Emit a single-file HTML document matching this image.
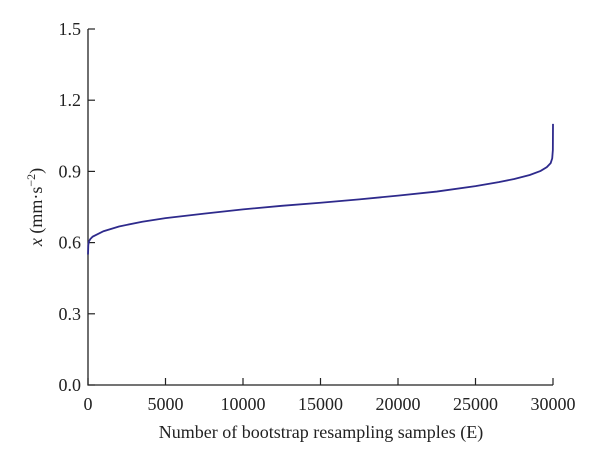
<!DOCTYPE html>
<html><head><meta charset="utf-8"><style>
html,body{margin:0;padding:0;background:#fff;}
svg{display:block;font-family:"Liberation Serif",serif;}
</style></head><body>
<svg width="600" height="463" viewBox="0 0 600 463">
<g id="axes"></g>
<path id="series" fill="none" stroke="#2e2a8c" stroke-width="1.8"/>
<text x="321" y="438" font-size="18" text-anchor="middle" fill="#222">Number of bootstrap resampling samples (E)</text>
<text transform="translate(42,207) rotate(-90)" font-size="18" text-anchor="middle" fill="#222"><tspan font-style="italic">x</tspan> (mm·s<tspan dy="-7" font-size="12">−2</tspan><tspan dy="7">)</tspan></text>
</svg>
<script>
const xTicks=[0,5000,10000,15000,20000,25000,30000];
const yTicks=[0.0,0.3,0.6,0.9,1.2,1.5];
const yTickLabels=["0.0","0.3","0.6","0.9","1.2","1.5"];
const sampleIdx=[0,20,60,150,300,600,1000,2000,3500,5000,7500,10000,12500,15000,17500,20000,22500,25000,26500,27500,28500,29200,29600,29850,29950,29990,30000];
const sampleVal=[0.55,0.59,0.605,0.615,0.625,0.635,0.648,0.668,0.688,0.703,0.722,0.740,0.755,0.768,0.782,0.798,0.815,0.838,0.855,0.868,0.885,0.902,0.918,0.935,0.955,0.99,1.10];
const X0=88,X1=553,Y0=385,Y1=29;
const sx=v=>X0+(v-0)/(30000-0)*(X1-X0);
const sy=v=>Y0-(v-0)/(1.5-0)*(Y0-Y1);
const NS="http://www.w3.org/2000/svg";
const g=document.getElementById('axes');
function mk(t,a){const e=document.createElementNS(NS,t);for(const k in a)e.setAttribute(k,a[k]);g.appendChild(e);return e;}
let ax=mk('path',{d:`M${X0} ${Y1}V${Y0}H${X1}`,fill:'none',stroke:'#222','stroke-width':1.3});


yTicks.forEach((v,i)=>{
 const y=sy(v);
 const t=mk('line',{x1:X0,x2:X0+7,y1:y,y2:y,stroke:'#222','stroke-width':1.2});
 
 
 const l=mk('text',{x:X0-7,y:y+6,'font-size':18,'text-anchor':'end',fill:'#222'});
 l.textContent=yTickLabels[i];
 
 
});
xTicks.forEach(v=>{
 const x=sx(v);
 const t=mk('line',{x1:x,x2:x,y1:Y0,y2:Y0-7,stroke:'#222','stroke-width':1.2});
 
 
 const l=mk('text',{x:x,y:410,'font-size':18,'text-anchor':'middle',fill:'#222'});
 l.textContent=v;
 
 
});
document.getElementById('series').setAttribute('d',sampleIdx.map((v,i)=>(i?'L':'M')+sx(v).toFixed(2)+' '+sy(sampleVal[i]).toFixed(2)).join(''));
</script>
</body></html>
